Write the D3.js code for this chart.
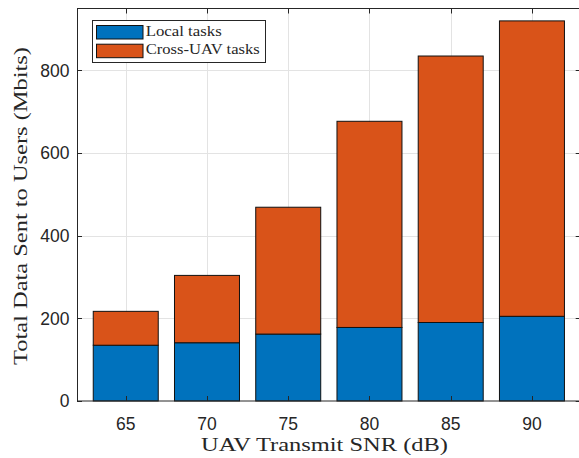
<!DOCTYPE html>
<html>
<head>
<meta charset="utf-8">
<script src="https://cdn.jsdelivr.net/npm/d3@7"></script>
<style>
  html, body { margin: 0; padding: 0; background: #fff; }
  svg { display: block; }
  .tick-label { font-family: "Liberation Sans", Arial, sans-serif; font-size: 17.5px; fill: #262626; }
  .serif { font-family: "Liberation Serif", "DejaVu Serif", serif; fill: #262626; }
</style>
</head>
<body>
<svg id="chart" width="579" height="458"></svg>
<script>
// Transmit SNR levels (dB) and data sent (Mbits), stacked
const snrLevels = ['65', '70', '75', '80', '85', '90'];
const localTasks = [135, 141, 162, 178, 190, 205];
const crossUavTasks = [82, 163, 307, 499, 645, 715];
const yTicks = [0, 200, 400, 600, 800];
const seriesNames = ['Local tasks', 'Cross-UAV tasks'];
const seriesColors = ['#0072BD', '#D95319'];

const svg = d3.select('#chart');
const axLeft = 77, axRight = 580.7, axTop = 8.5, axBottom = 401;

const rows = snrLevels.map((s, i) => ({ snr: s, local: localTasks[i], cross: crossUavTasks[i] }));

const x = d3.scaleBand().domain(snrLevels).range([axLeft, axRight])
  .paddingInner(0.2).paddingOuter(0.2);
const y = d3.scaleLinear().domain([0, 950]).range([axBottom, axTop]);

// grid
const grid = svg.append('g').attr('stroke', '#e3e3e3').attr('stroke-width', 1);
grid.selectAll('line.h').data(yTicks.slice(1)).enter().append('line')
  .attr('x1', axLeft).attr('x2', axRight)
  .attr('y1', d => Math.round(y(d)) + 0.5).attr('y2', d => Math.round(y(d)) + 0.5);
grid.selectAll('line.v').data(snrLevels).enter().append('line')
  .attr('x1', d => Math.round(x(d) + x.bandwidth() / 2) + 0.5)
  .attr('x2', d => Math.round(x(d) + x.bandwidth() / 2) + 0.5)
  .attr('y1', axTop).attr('y2', axBottom);

// stacked bars
const stack = d3.stack().keys(['local', 'cross'])(rows);
svg.append('g').selectAll('g').data(stack).enter().append('g')
  .attr('fill', (d, i) => seriesColors[i])
  .selectAll('rect').data(d => d).enter().append('rect')
  .attr('x', d => x(d.data.snr))
  .attr('width', x.bandwidth())
  .attr('y', d => y(d[1]))
  .attr('height', d => y(d[0]) - y(d[1]))
  .attr('stroke', '#111').attr('stroke-width', 1);

// axes box and ticks
const ax = svg.append('g').attr('stroke', '#262626').attr('stroke-width', 1).attr('fill', 'none');
ax.append('rect').attr('x', axLeft + 0.5).attr('y', axTop).attr('width', axRight - axLeft).attr('height', axBottom - axTop);
const tl = 5;
snrLevels.forEach(s => {
  const cx = Math.round(x(s) + x.bandwidth() / 2) + 0.5;
  ax.append('line').attr('x1', cx).attr('x2', cx).attr('y1', axBottom).attr('y2', axBottom - tl);
  ax.append('line').attr('x1', cx).attr('x2', cx).attr('y1', axTop).attr('y2', axTop + tl);
});
yTicks.forEach(t => {
  const cy = Math.round(y(t)) + 0.5;
  ax.append('line').attr('x1', axLeft).attr('x2', axLeft + tl).attr('y1', cy).attr('y2', cy);
  ax.append('line').attr('x1', axRight).attr('x2', axRight - tl).attr('y1', cy).attr('y2', cy);
});

// tick labels
svg.append('g').selectAll('text').data(snrLevels).enter().append('text')
  .attr('class', 'tick-label')
  .attr('x', d => x(d) + x.bandwidth() / 2).attr('y', 429.5)
  .attr('text-anchor', 'middle').text(d => d);
svg.append('g').selectAll('text').data(yTicks).enter().append('text')
  .attr('class', 'tick-label')
  .attr('x', 69.5).attr('y', d => y(d) + 6.3)
  .attr('text-anchor', 'end').text(d => d);

// axis labels
svg.append('text').attr('class', 'serif')
  .attr('x', 324.5).attr('y', 451).attr('text-anchor', 'middle')
  .attr('font-size', 19.5)
  .attr('textLength', 247).attr('lengthAdjust', 'spacingAndGlyphs')
  .text('UAV Transmit SNR (dB)');
svg.append('text').attr('class', 'serif')
  .attr('transform', 'translate(26.5,206) rotate(-90)')
  .attr('text-anchor', 'middle')
  .attr('font-size', 19.5)
  .attr('textLength', 318).attr('lengthAdjust', 'spacingAndGlyphs')
  .text('Total Data Sent to Users (Mbits)');

// legend
const lg = svg.append('g');
lg.append('rect').attr('x', 92.5).attr('y', 20.5).attr('width', 173).attr('height', 42)
  .attr('fill', '#fff').attr('stroke', '#262626').attr('stroke-width', 1);
const legendRows = [
  { name: seriesNames[0], color: seriesColors[0], y: 25.5, base: 35.7, w: 76 },
  { name: seriesNames[1], color: seriesColors[1], y: 44.2, base: 54.3, w: 114 }
];
legendRows.forEach(r => {
  lg.append('rect').attr('x', 96.5).attr('y', r.y).attr('width', 46.5).attr('height', 13.5)
    .attr('fill', r.color).attr('stroke', '#111').attr('stroke-width', 1);
  lg.append('text').attr('class', 'serif').attr('x', 145.7).attr('y', r.base)
    .attr('font-size', 14).attr('textLength', r.w).attr('lengthAdjust', 'spacingAndGlyphs')
    .text(r.name);
});
</script>
</body>
</html>
